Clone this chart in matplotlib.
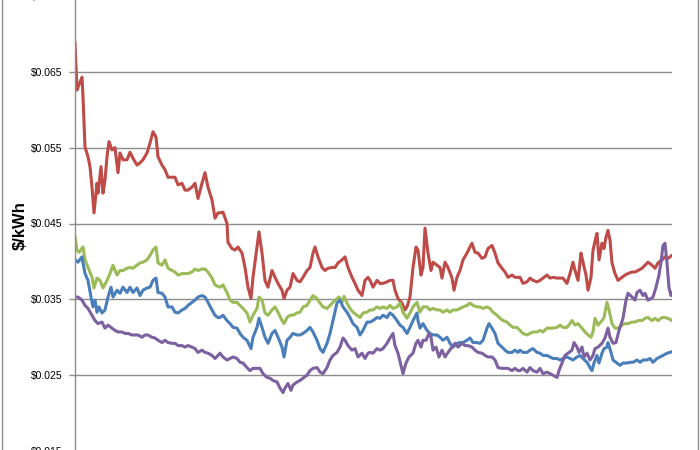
import numpy as np
import matplotlib.pyplot as plt
from matplotlib.patches import Rectangle
from matplotlib.ticker import FuncFormatter

plt.rcParams['font.family'] = ['Liberation Sans', 'DejaVu Sans']

# trading days since start of the window, and price in $/kWh
red_days = [0, 2, 4, 7, 8, 10, 13, 15, 17, 19, 22, 23, 26, 28, 30, 32, 34, 37, 40, 43, 45, 48, 52, 55, 58,
            62, 65, 68, 72, 75, 78, 81, 83, 87, 90, 93, 97, 100, 103, 107, 110, 113, 117, 120, 123, 127, 130,
            133, 137, 140, 143, 145, 148, 152, 153, 157, 160, 163, 167, 170, 173, 176, 178, 182, 184, 187, 190,
            193, 197, 200, 203, 207, 209, 212, 215, 218, 222, 225, 228, 232, 235, 238, 240, 243, 247, 250, 253,
            257, 260, 263, 267, 270, 273, 277, 280, 283, 287, 290, 293, 295, 298, 302, 305, 308, 312, 315, 318,
            320, 323, 327, 330, 332, 335, 338, 341, 343, 346, 348, 350, 353, 356, 358, 362, 365, 367, 370, 373,
            377, 379, 382, 385, 388, 392, 395, 397, 400, 403, 407, 410, 413, 417, 420, 423, 427, 430, 433, 437,
            440, 443, 445, 448, 452, 455, 458, 462, 465, 468, 472, 475, 478, 482, 485, 488, 492, 495, 498, 500,
            503, 506, 508, 511, 513, 516, 518, 521, 522, 524, 527, 529, 531, 533, 535, 537, 540, 543, 547, 550,
            553, 557, 560, 563, 567, 570, 573, 577, 580, 583, 587, 590, 593, 597]
red_vals = [0.0688, 0.0626, 0.0633, 0.0643, 0.0617, 0.0551, 0.0538, 0.0525, 0.0498, 0.0464, 0.0503, 0.0490,
            0.0525, 0.0490, 0.0507, 0.0538, 0.0558, 0.0547, 0.0550, 0.0517, 0.0543, 0.0534, 0.0534, 0.0544,
            0.0536, 0.0527, 0.0530, 0.0534, 0.0543, 0.0556, 0.0571, 0.0564, 0.0538, 0.0527, 0.0521, 0.0511,
            0.0511, 0.0511, 0.0501, 0.0503, 0.0494, 0.0494, 0.0498, 0.0503, 0.0483, 0.0503, 0.0517, 0.0498,
            0.0481, 0.0457, 0.0464, 0.0464, 0.0465, 0.0450, 0.0425, 0.0417, 0.0415, 0.0419, 0.0411, 0.0392,
            0.0366, 0.0351, 0.0379, 0.0419, 0.0439, 0.0411, 0.0375, 0.0366, 0.0388, 0.0379, 0.0371, 0.0362,
            0.0351, 0.0362, 0.0366, 0.0384, 0.0375, 0.0373, 0.0379, 0.0388, 0.0392, 0.0411, 0.0419, 0.0406,
            0.0392, 0.0388, 0.0391, 0.0392, 0.0392, 0.0398, 0.0402, 0.0406, 0.0392, 0.0379, 0.0371, 0.0362,
            0.0355, 0.0375, 0.0379, 0.0375, 0.0366, 0.0375, 0.0371, 0.0371, 0.0373, 0.0375, 0.0375, 0.0362,
            0.0351, 0.0345, 0.0336, 0.0340, 0.0353, 0.0392, 0.0419, 0.0415, 0.0382, 0.0392, 0.0444, 0.0411,
            0.0388, 0.0399, 0.0395, 0.0392, 0.0378, 0.0399, 0.0392, 0.0378, 0.0362, 0.0379, 0.0388, 0.0402,
            0.0411, 0.0419, 0.0424, 0.0412, 0.0411, 0.0404, 0.0406, 0.0417, 0.0421, 0.0411, 0.0398, 0.0391,
            0.0386, 0.0379, 0.0382, 0.0379, 0.0379, 0.0379, 0.0371, 0.0373, 0.0378, 0.0375, 0.0373, 0.0375,
            0.0378, 0.0382, 0.0378, 0.0379, 0.0378, 0.0378, 0.0378, 0.0371, 0.0384, 0.0399, 0.0388, 0.0375,
            0.0411, 0.0399, 0.0382, 0.0362, 0.0379, 0.0415, 0.0432, 0.0437, 0.0402, 0.0424, 0.0417, 0.0432,
            0.0441, 0.0428, 0.0398, 0.0384, 0.0375, 0.0379, 0.0382, 0.0384, 0.0386, 0.0386, 0.0388, 0.0391,
            0.0395, 0.0399, 0.0395, 0.0391, 0.0398, 0.0402, 0.0406, 0.0404, 0.0408]

green_days = [0, 2, 4, 8, 10, 13, 17, 19, 22, 25, 28, 32, 35, 38, 42, 45, 48, 52, 55, 58, 62, 65, 68, 72, 75,
              78, 81, 83, 87, 90, 93, 97, 100, 103, 107, 110, 113, 117, 120, 123, 127, 130, 133, 137, 140, 143,
              145, 148, 152, 155, 158, 162, 165, 168, 172, 175, 178, 182, 184, 187, 190, 193, 197, 200, 203, 207,
              209, 212, 215, 218, 222, 225, 228, 232, 235, 238, 242, 245, 248, 252, 255, 258, 262, 264, 267, 269,
              272, 275, 278, 282, 285, 288, 292, 295, 298, 302, 305, 308, 312, 315, 318, 322, 325, 328, 332, 335,
              338, 342, 345, 348, 352, 355, 358, 362, 365, 368, 372, 375, 378, 382, 385, 388, 392, 395, 398, 402,
              405, 408, 412, 415, 418, 422, 425, 428, 432, 435, 438, 442, 445, 448, 452, 455, 458, 462, 465, 468,
              472, 475, 478, 482, 485, 488, 492, 495, 497, 500, 503, 507, 510, 513, 516, 518, 520, 523, 527, 529,
              532, 534, 537, 540, 543, 547, 550, 553, 557, 560, 563, 567, 570, 573, 577, 580, 583, 587, 590, 593,
              597]
green_vals = [0.0432, 0.0415, 0.0412, 0.0419, 0.0402, 0.0392, 0.0379, 0.0365, 0.0378, 0.0375, 0.0365, 0.0375,
              0.0384, 0.0395, 0.0382, 0.0388, 0.0388, 0.0391, 0.0392, 0.0391, 0.0395, 0.0398, 0.0399, 0.0402,
              0.0408, 0.0415, 0.0419, 0.0398, 0.0395, 0.0402, 0.0391, 0.0388, 0.0386, 0.0382, 0.0384, 0.0384,
              0.0384, 0.0386, 0.0390, 0.0388, 0.0390, 0.0390, 0.0386, 0.0378, 0.0369, 0.0367, 0.0366, 0.0369,
              0.0359, 0.0349, 0.0346, 0.0346, 0.0342, 0.0338, 0.0332, 0.0320, 0.0329, 0.0338, 0.0353, 0.0349,
              0.0332, 0.0329, 0.0336, 0.0340, 0.0333, 0.0322, 0.0318, 0.0326, 0.0329, 0.0329, 0.0332, 0.0333,
              0.0340, 0.0342, 0.0349, 0.0355, 0.0351, 0.0345, 0.0340, 0.0338, 0.0342, 0.0346, 0.0351, 0.0353,
              0.0346, 0.0354, 0.0345, 0.0338, 0.0333, 0.0329, 0.0326, 0.0332, 0.0333, 0.0336, 0.0336, 0.0340,
              0.0338, 0.0340, 0.0338, 0.0342, 0.0338, 0.0340, 0.0345, 0.0333, 0.0325, 0.0332, 0.0340, 0.0346,
              0.0333, 0.0340, 0.0340, 0.0336, 0.0338, 0.0336, 0.0336, 0.0333, 0.0336, 0.0333, 0.0336, 0.0336,
              0.0338, 0.0340, 0.0342, 0.0345, 0.0342, 0.0340, 0.0340, 0.0338, 0.0340, 0.0338, 0.0333, 0.0329,
              0.0325, 0.0322, 0.0320, 0.0316, 0.0313, 0.0313, 0.0309, 0.0305, 0.0303, 0.0305, 0.0307, 0.0307,
              0.0309, 0.0307, 0.0312, 0.0312, 0.0312, 0.0313, 0.0316, 0.0313, 0.0313, 0.0318, 0.0322, 0.0316,
              0.0318, 0.0312, 0.0307, 0.0303, 0.0300, 0.0307, 0.0325, 0.0316, 0.0322, 0.0326, 0.0346, 0.0336,
              0.0318, 0.0312, 0.0312, 0.0316, 0.0318, 0.0318, 0.0320, 0.0320, 0.0322, 0.0322, 0.0325, 0.0326,
              0.0322, 0.0325, 0.0322, 0.0326, 0.0326, 0.0325, 0.0322]

blue_days = [0, 3, 7, 8, 10, 13, 16, 18, 20, 22, 24, 27, 30, 33, 36, 38, 42, 45, 48, 52, 55, 58, 62, 65, 68,
             72, 75, 78, 81, 83, 87, 90, 93, 97, 100, 103, 107, 110, 113, 117, 120, 123, 127, 130, 133, 137, 140,
             143, 145, 148, 152, 155, 158, 162, 165, 168, 172, 176, 178, 182, 184, 187, 190, 193, 197, 200, 203,
             207, 209, 212, 215, 218, 222, 225, 228, 232, 235, 238, 242, 245, 248, 252, 255, 258, 262, 265, 268,
             272, 275, 278, 282, 285, 288, 292, 295, 298, 302, 305, 308, 312, 315, 318, 322, 325, 328, 332, 335,
             338, 342, 343, 345, 348, 352, 355, 358, 362, 365, 368, 372, 375, 378, 382, 385, 388, 392, 395, 398,
             402, 405, 408, 412, 414, 417, 420, 423, 427, 430, 433, 437, 440, 443, 445, 448, 452, 455, 458, 462,
             465, 468, 472, 475, 478, 482, 485, 488, 492, 495, 498, 502, 505, 508, 512, 515, 517, 519, 522, 524,
             527, 529, 532, 533, 536, 538, 542, 545, 548, 552, 555, 558, 562, 565, 568, 572, 575, 578, 582, 585,
             588, 592, 595, 597]
blue_vals = [0.0402, 0.0399, 0.0406, 0.0398, 0.0384, 0.0375, 0.0353, 0.0340, 0.0349, 0.0333, 0.0340, 0.0332,
             0.0336, 0.0353, 0.0366, 0.0353, 0.0362, 0.0358, 0.0366, 0.0359, 0.0366, 0.0359, 0.0365, 0.0355,
             0.0362, 0.0365, 0.0366, 0.0375, 0.0378, 0.0359, 0.0358, 0.0353, 0.0340, 0.0340, 0.0333, 0.0332,
             0.0336, 0.0338, 0.0342, 0.0346, 0.0349, 0.0353, 0.0355, 0.0353, 0.0346, 0.0336, 0.0329, 0.0326,
             0.0326, 0.0329, 0.0322, 0.0318, 0.0313, 0.0312, 0.0305, 0.0300, 0.0296, 0.0285, 0.0300, 0.0313,
             0.0325, 0.0313, 0.0300, 0.0292, 0.0305, 0.0309, 0.0300, 0.0287, 0.0274, 0.0296, 0.0300, 0.0305,
             0.0303, 0.0303, 0.0305, 0.0309, 0.0313, 0.0307, 0.0296, 0.0285, 0.0280, 0.0292, 0.0305, 0.0322,
             0.0345, 0.0349, 0.0340, 0.0333, 0.0326, 0.0318, 0.0313, 0.0303, 0.0309, 0.0320, 0.0320, 0.0322,
             0.0326, 0.0325, 0.0329, 0.0326, 0.0332, 0.0329, 0.0322, 0.0316, 0.0313, 0.0305, 0.0313, 0.0322,
             0.0332, 0.0322, 0.0312, 0.0318, 0.0309, 0.0305, 0.0303, 0.0303, 0.0300, 0.0296, 0.0300, 0.0292,
             0.0287, 0.0292, 0.0293, 0.0293, 0.0296, 0.0299, 0.0293, 0.0293, 0.0292, 0.0296, 0.0312, 0.0318,
             0.0312, 0.0305, 0.0292, 0.0287, 0.0283, 0.0280, 0.0280, 0.0283, 0.0280, 0.0283, 0.0280, 0.0280,
             0.0283, 0.0285, 0.0280, 0.0279, 0.0276, 0.0276, 0.0274, 0.0272, 0.0272, 0.0270, 0.0272, 0.0274,
             0.0272, 0.0270, 0.0274, 0.0276, 0.0272, 0.0267, 0.0260, 0.0256, 0.0266, 0.0276, 0.0266, 0.0279,
             0.0285, 0.0287, 0.0293, 0.0280, 0.0270, 0.0266, 0.0263, 0.0266, 0.0266, 0.0267, 0.0267, 0.0270,
             0.0267, 0.0270, 0.0270, 0.0272, 0.0267, 0.0272, 0.0274, 0.0276, 0.0279, 0.0280, 0.0281]

purple_days = [0, 3, 7, 10, 13, 17, 20, 23, 27, 30, 33, 37, 40, 43, 47, 50, 53, 57, 60, 63, 67, 70, 73, 77, 80,
               83, 87, 90, 93, 97, 100, 103, 107, 110, 113, 117, 120, 123, 127, 130, 133, 137, 140, 143, 145, 148,
               152, 155, 158, 162, 165, 168, 172, 175, 178, 182, 185, 188, 192, 195, 198, 202, 205, 208, 210, 213,
               216, 218, 222, 225, 228, 232, 235, 238, 242, 245, 248, 252, 255, 258, 262, 265, 268, 270, 273, 277,
               280, 283, 287, 290, 293, 295, 298, 302, 305, 308, 312, 315, 318, 320, 323, 326, 328, 331, 334, 338,
               341, 343, 346, 348, 351, 354, 356, 358, 361, 364, 367, 370, 373, 377, 380, 383, 387, 390, 393, 397,
               400, 403, 407, 410, 413, 417, 420, 423, 427, 430, 433, 437, 440, 443, 445, 448, 452, 455, 458, 462,
               465, 468, 472, 475, 478, 482, 484, 487, 490, 493, 497, 499, 502, 504, 507, 509, 512, 515, 518, 520,
               523, 527, 530, 533, 535, 538, 541, 544, 548, 551, 553, 557, 560, 562, 565, 568, 570, 573, 576, 578,
               581, 584, 586, 588, 590, 592, 594, 596, 597]
purple_vals = [0.0353, 0.0353, 0.0349, 0.0342, 0.0338, 0.0329, 0.0322, 0.0318, 0.0320, 0.0312, 0.0316, 0.0312,
               0.0309, 0.0307, 0.0307, 0.0305, 0.0305, 0.0303, 0.0303, 0.0303, 0.0300, 0.0303, 0.0303, 0.0300,
               0.0299, 0.0296, 0.0293, 0.0296, 0.0293, 0.0292, 0.0292, 0.0289, 0.0289, 0.0287, 0.0289, 0.0287,
               0.0285, 0.0280, 0.0283, 0.0280, 0.0279, 0.0276, 0.0272, 0.0276, 0.0279, 0.0274, 0.0270, 0.0272,
               0.0274, 0.0272, 0.0267, 0.0266, 0.0260, 0.0256, 0.0259, 0.0259, 0.0259, 0.0252, 0.0247, 0.0246,
               0.0243, 0.0241, 0.0233, 0.0227, 0.0233, 0.0239, 0.0230, 0.0237, 0.0241, 0.0243, 0.0246, 0.0250,
               0.0256, 0.0259, 0.0260, 0.0254, 0.0252, 0.0260, 0.0270, 0.0276, 0.0280, 0.0287, 0.0299, 0.0296,
               0.0289, 0.0283, 0.0285, 0.0274, 0.0279, 0.0272, 0.0279, 0.0280, 0.0279, 0.0285, 0.0283, 0.0285,
               0.0292, 0.0299, 0.0305, 0.0289, 0.0279, 0.0263, 0.0252, 0.0266, 0.0274, 0.0279, 0.0292, 0.0296,
               0.0287, 0.0296, 0.0296, 0.0305, 0.0300, 0.0283, 0.0287, 0.0274, 0.0283, 0.0274, 0.0280, 0.0287,
               0.0292, 0.0287, 0.0292, 0.0289, 0.0289, 0.0287, 0.0283, 0.0280, 0.0279, 0.0276, 0.0274, 0.0274,
               0.0270, 0.0260, 0.0259, 0.0259, 0.0259, 0.0256, 0.0259, 0.0256, 0.0256, 0.0259, 0.0254, 0.0260,
               0.0256, 0.0254, 0.0259, 0.0252, 0.0254, 0.0252, 0.0250, 0.0247, 0.0256, 0.0266, 0.0276, 0.0279,
               0.0283, 0.0293, 0.0287, 0.0280, 0.0287, 0.0274, 0.0279, 0.0270, 0.0276, 0.0285, 0.0287, 0.0292,
               0.0299, 0.0312, 0.0300, 0.0292, 0.0293, 0.0309, 0.0325, 0.0349, 0.0358, 0.0353, 0.0349, 0.0359,
               0.0362, 0.0355, 0.0358, 0.0349, 0.0351, 0.0353, 0.0366, 0.0382, 0.0399, 0.0421, 0.0424, 0.0398,
               0.0365, 0.0355, 0.0358]

y_ticks = [0.015, 0.025, 0.035, 0.045, 0.055, 0.065, 0.075]

fig = plt.figure(figsize=(7, 4.5), dpi=100)
fig.patch.set_facecolor('white')
# plot area slightly taller than the picture, like the cropped original
ax = fig.add_axes([75 / 700, -1 / 450, (672 - 75) / 700, 455 / 450])

ax.plot(red_days, red_vals, color='#BE4B48', lw=2.2)
ax.plot(green_days, green_vals, color='#9BBB59', lw=2.2)
ax.plot(blue_days, blue_vals, color='#4A7EBB', lw=2.2)
ax.plot(purple_days, purple_vals, color='#7D60A0', lw=2.2)

ax.set_xlim(0, 597)
ax.set_ylim(0.015, 0.075)
ax.set_yticks(y_ticks)
ax.yaxis.set_major_formatter(FuncFormatter(lambda v, p: '$%.3f' % v))
ax.set_xticks([])
ax.grid(axis='y', color='#8C8C8C', lw=1.0)
ax.set_axisbelow(True)
for s in ['top', 'right', 'bottom']:
    ax.spines[s].set_visible(False)
ax.spines['left'].set_color('#8C8C8C')
ax.spines['left'].set_linewidth(1.0)
ax.tick_params(axis='y', length=4, width=1, color='#8C8C8C', pad=5,
               labelsize=7.5, labelcolor='#000000')

fig.text(20 / 700, 1 - 226 / 450, '$/kWh', rotation=90, ha='center', va='center',
         fontsize=12, fontweight='bold')

# chart frame
fig.add_artist(Rectangle((2 / 700, -0.02), 696 / 700, 1.04, transform=fig.transFigure,
                         fill=False, edgecolor='#8C8C8C', lw=1.0))

plt.savefig('out.png', dpi=100)
